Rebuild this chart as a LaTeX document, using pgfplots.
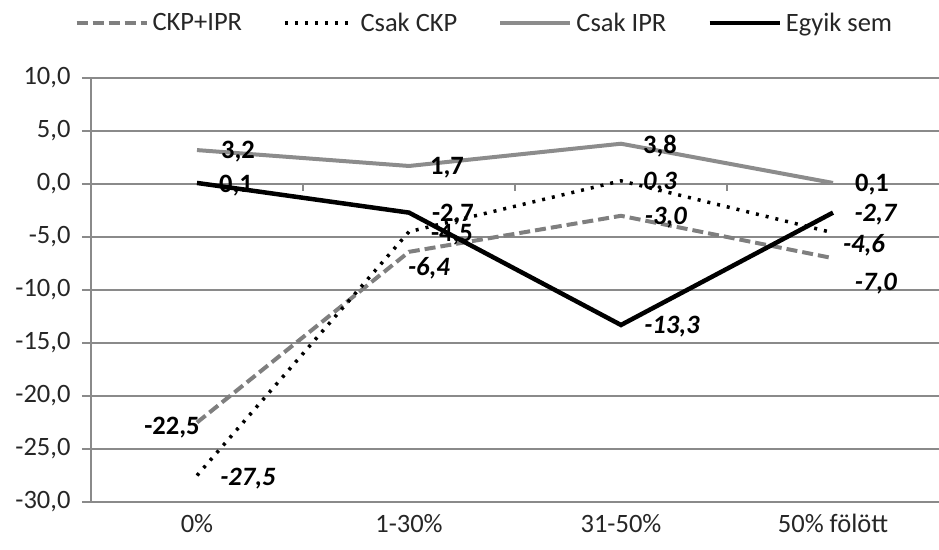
\documentclass[border=0pt]{standalone}
\usepackage{pgfplots}
\pgfplotsset{compat=1.18}
\usepackage{pgfplotstable}
\usepackage{fontspec}
\setmainfont{Carlito}
\definecolor{gridc}{HTML}{8A8A8A}
\definecolor{dgray}{HTML}{7F7F7F}
\definecolor{lgray}{HTML}{8C8C8C}
\definecolor{txt}{HTML}{262626}

\pgfplotstableread{
x y lab dx dy
0 -22.5 -22,5 -25 -5
1 -6.4 \textit{-6,4} 20 -16
2 -3.0 \textit{-3,0} 45 -2
3 -7.0 \textit{-7,0} 43 -25
}\ckpipr
\pgfplotstableread{
x y lab dx dy
0 -27.5 \textit{-27,5} 51 -3
1 -4.5 -4,5 43 -3
2 0.3 \textit{0,3} 39 -2
3 -4.6 \textit{-4,6} 31 -12
}\csakckp
\pgfplotstableread{
x y lab dx dy
0 3.2 3,2 41 -2
1 1.7 1,7 38 -2
2 3.8 3,8 39 -2
3 0.1 0,1 39 -2
}\csakipr
\pgfplotstableread{
x y lab dx dy
0 0.1 0,1 39 -3
1 -2.7 -2,7 44 -2
2 -13.3 \textit{-13,3} 51 -2
3 -2.7 \textit{-2,7} 43 -2
}\egyik

\begin{document}
\begin{tikzpicture}
\begin{axis}[
  name=ax,
  scale only axis,
  width=848pt, height=424pt,
  xmin=-0.5, xmax=3.5,
  ymin=-30, ymax=10,
  ytick distance=5,
  xtick={0,1,2,3},
  xticklabels={0\%,1-30\%,31-50\%,50\% fölött},
  axis x line*=bottom,
  axis y line*=left,
  axis line style={gridc, line width=1.5pt},
  ymajorgrids,
  grid style={gridc, line width=1.5pt},
  tick align=outside,
  major tick length=9pt,
  xtick style={draw=none},
  ytick style={gridc, line width=1.5pt},
  ticklabel style={font=\fontsize{26.5}{30}\selectfont, text=txt},
  /pgf/number format/assume math mode=true,
  yticklabel shift=8pt,
  yticklabel style={/pgf/number format/.cd, fixed, fixed zerofill, precision=1, use comma},
  clip=false,
  nodes near coords,
  point meta=explicit symbolic,
  visualization depends on={\thisrow{dx}\as\dx},
  visualization depends on={\thisrow{dy}\as\dy},
  every node near coord/.style={anchor=center, xshift=\dx pt, yshift=\dy pt,
     font=\fontsize{26.5}{30}\selectfont\bfseries, text=black, inner sep=0pt},
  legend style={at={(axis description cs:0.465,1.13)}, anchor=center, draw=none,
     font=\fontsize{26.5}{30}\selectfont, text=txt, fill=none,
     /tikz/every even column/.append style={column sep=37pt},
     nodes={inner xsep=4pt}},
  legend columns=4,
  legend image code/.code={\draw[#1] (0pt,0pt) -- (70pt,0pt);},
]
\addplot[dgray, line width=4pt, dash pattern=on 11pt off 5pt] table[x=x,y=y,meta=lab]{\ckpipr};
\addlegendentry{CKP+IPR}
\addplot[black, line width=3.5pt, dash pattern=on 3pt off 7pt] table[x=x,y=y,meta=lab]{\csakckp};
\addlegendentry{Csak CKP}
\addplot[lgray, line width=4pt] table[x=x,y=y,meta=lab]{\csakipr};
\addlegendentry{Csak IPR}
\addplot[black, line width=4.5pt] table[x=x,y=y,meta=lab]{\egyik};
\addlegendentry{Egyik sem}
\draw[gridc, line width=1.5pt] (axis cs:0.5,0) -- ++(0pt,-7pt);
\draw[gridc, line width=1.5pt] (axis cs:1.5,0) -- ++(0pt,-7pt);
\draw[gridc, line width=1.5pt] (axis cs:2.5,0) -- ++(0pt,-7pt);
\end{axis}
\pgfresetboundingbox
\path[use as bounding box] ([xshift=-91pt,yshift=-47pt]ax.south west) rectangle ([yshift=78pt]ax.north east);
\end{tikzpicture}
\end{document}
